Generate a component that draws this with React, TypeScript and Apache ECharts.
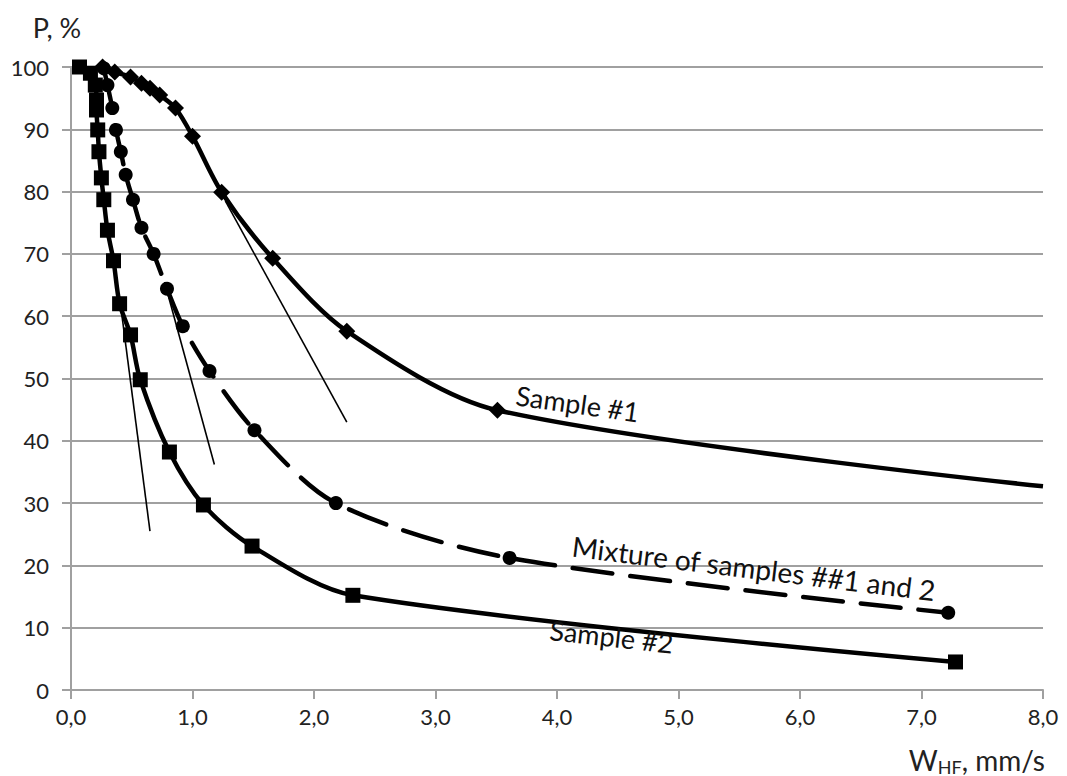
import React, { useEffect, useRef } from "react";
import * as echarts from "echarts";

// Sample #1 (diamonds)
const sample1X = [0.26, 0.36, 0.49, 0.58, 0.65, 0.73, 0.86, 1.0, 1.24, 1.66, 2.27, 3.51];
const sample1Y = [100, 99.2, 98.4, 97.4, 96.6, 95.5, 93.4, 88.9, 79.9, 69.3, 57.6, 44.9];
const sample1Tail = [8.0, 32.7];

// Mixture of samples ##1 and 2 (circles)
const mixX = [0.27, 0.3, 0.34, 0.37, 0.41, 0.45, 0.51, 0.58, 0.68, 0.79, 0.92, 1.14, 1.51, 2.18, 3.61, 7.22];
const mixY = [99.8, 97.1, 93.4, 89.9, 86.4, 82.7, 78.7, 74.2, 70.0, 64.4, 58.4, 51.2, 41.7, 30.0, 21.2, 12.4];

// Sample #2 (squares)
const sample2X = [0.07, 0.16, 0.2, 0.21, 0.21, 0.22, 0.23, 0.25, 0.27, 0.3, 0.35, 0.4, 0.49, 0.57, 0.81, 1.09, 1.49, 2.32, 7.28];
const sample2Y = [100, 99, 97.1, 94.7, 93.1, 89.9, 86.4, 82.2, 78.7, 73.8, 68.9, 62.0, 57.0, 49.8, 38.2, 29.7, 23.1, 15.2, 4.5];

// Tangent lines [x1, y1, x2, y2]
const tangent1 = [1.27, 78.5, 2.27, 43.0];
const tangent2 = [0.77, 65.5, 1.18, 36.2];
const tangent3 = [0.41, 61.5, 0.65, 25.5];

// Curve labels: [x, y]
const label1Pos = [4.17, 46.0];
const labelMixPos = [5.62, 19.6];
const label2Pos = [4.45, 8.6];

const xTicks = ["0,0", "1,0", "2,0", "3,0", "4,0", "5,0", "6,0", "7,0", "8,0"];

const FONT = "Lato, 'Open Sans', sans-serif";

function zip(xs: number[], ys: number[]) {
  return xs.map((x, i) => [x, ys[i]]);
}

export default function App() {
  const ref = useRef<HTMLDivElement>(null);

  useEffect(() => {
    document.body.style.margin = "0";
    if (!ref.current) return;
    const chart = echarts.init(ref.current, null, { renderer: "svg" });

    const tangentSeries = [tangent1, tangent2, tangent3].map((t) => ({
      type: "line",
      data: [
        [t[0], t[1]],
        [t[2], t[3]],
      ],
      symbol: "none",
      lineStyle: { color: "#000", width: 1.6 },
      silent: true,
      z: 1,
    }));

    const option: any = {
      animation: false,
      backgroundColor: "#fff",
      grid: { left: 71, right: 24, top: 67, bottom: 86 },
      xAxis: {
        type: "value",
        min: 0,
        max: 8,
        interval: 1,
        axisLine: { show: true, lineStyle: { color: "#a0a0a0", width: 2 } },
        axisTick: { show: true, length: 9, lineStyle: { color: "#a0a0a0", width: 2 } },
        splitLine: { show: false },
        axisLabel: {
          margin: 15,
          fontSize: 22,
          fontFamily: FONT,
          color: "#222",
          formatter: (v: number) => xTicks[Math.round(v)] ?? "",
        },
      },
      yAxis: {
        type: "value",
        min: 0,
        max: 100,
        interval: 10,
        axisLine: { show: true, lineStyle: { color: "#a0a0a0", width: 2 } },
        axisTick: { show: true, length: 9, lineStyle: { color: "#a0a0a0", width: 2 } },
        splitLine: { show: true, lineStyle: { color: "#a0a0a0", width: 2 } },
        axisLabel: { margin: 22, fontSize: 22, fontFamily: FONT, color: "#222" },
      },
      series: [
        ...tangentSeries,
        {
          type: "line",
          name: "Sample #1",
          data: [...zip(sample1X, sample1Y), { value: sample1Tail, symbol: "none" }],
          smooth: 0.3,
          symbol: "diamond",
          symbolSize: 17,
          itemStyle: { color: "#000" },
          lineStyle: { color: "#000", width: 4.5 },
          z: 3,
        },
        {
          type: "line",
          name: "Mixture",
          data: zip(mixX, mixY),
          smooth: 0.3,
          symbol: "circle",
          symbolSize: 14,
          itemStyle: { color: "#000" },
          lineStyle: { color: "#000", width: 4.5, type: [40, 18], cap: "round" },
          z: 3,
        },
        {
          type: "line",
          name: "Sample #2",
          data: zip(sample2X, sample2Y),
          smooth: 0.3,
          symbol: "rect",
          symbolSize: 15,
          itemStyle: { color: "#000" },
          lineStyle: { color: "#000", width: 4.5 },
          z: 3,
        },
      ],
    };
    chart.setOption(option);

    const p1 = chart.convertToPixel({ gridIndex: 0 }, label1Pos) as number[];
    const pm = chart.convertToPixel({ gridIndex: 0 }, labelMixPos) as number[];
    const p2 = chart.convertToPixel({ gridIndex: 0 }, label2Pos) as number[];
    const txt = (text: string, p: number[], rotDeg: number, size: number) => ({
      type: "text",
      x: p[0],
      y: p[1],
      rotation: (-rotDeg * Math.PI) / 180,
      style: {
        text,
        fill: "#111",
        font: `${size}px ${FONT}`,
        align: "center",
        verticalAlign: "middle",
      },
      z: 10,
    });

    chart.setOption({
      graphic: [
        txt("Sample #1", p1, 8, 27),
        txt("Mixture of samples ##1 and 2", pm, 7, 28),
        txt("Sample #2", p2, 6.3, 27),
        {
          type: "text",
          x: 57,
          y: 27,
          style: {
            text: "P, %",
            fill: "#222",
            font: `27px ${FONT}`,
            align: "center",
            verticalAlign: "middle",
          },
        },
        {
          type: "text",
          x: 1045,
          y: 760,
          style: {
            text: "{m|W}{s|HF}{m|, mm/s}",
            align: "right",
            verticalAlign: "middle",
            rich: {
              m: { fontSize: 28, fontFamily: FONT, fill: "#222", color: "#222" },
              s: { fontSize: 18, fontFamily: FONT, fill: "#222", color: "#222", padding: [13, 0, 0, 0] },
            },
          },
        },
      ],
    });

    return () => chart.dispose();
  }, []);

  return <div ref={ref} style={{ width: 1067, height: 776 }} />;
}
